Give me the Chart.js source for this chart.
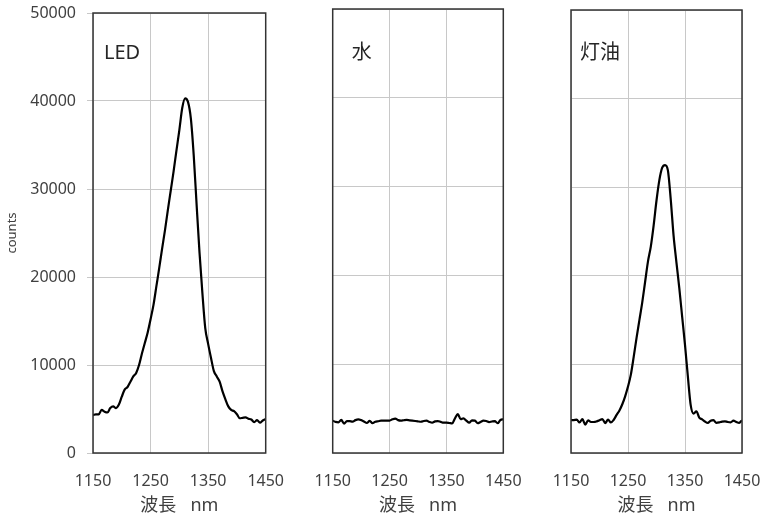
<!DOCTYPE html>
<html><head><meta charset="utf-8">
<script src="https://cdn.jsdelivr.net/npm/chart.js@4.4.0/dist/chart.umd.min.js"></script>
<style>
html,body{margin:0;padding:0;background:#fff;}
#wrap{position:relative;width:766px;height:520px;overflow:hidden;}
canvas{position:absolute;left:0;top:0;}
</style></head><body>
<div id="wrap">
<canvas id="c1" width="766" height="520"></canvas>
<canvas id="c2" width="766" height="520"></canvas>
<canvas id="c3" width="766" height="520"></canvas>
</div>
<script>
// ---- data ----
const wavelengths = [1150,1155,1160,1165,1170,1175,1180,1185,1190,1195,
  1200,1205,1210,1215,1220,1225,1230,1235,1240,1245,
  1250,1255,1260,1265,1270,1275,1280,1285,1290,1295,
  1300,1305,1310,1315,1320,1325,1330,1335,1340,1345,
  1350,1355,1360,1365,1370,1375,1380,1385,1390,1395,
  1400,1405,1410,1415,1420,1425,1430,1435,1440,1445,1450];
const ledCounts = [4300,4400,4400,4900,4700,4600,5100,5300,5100,5500,
  6400,7200,7500,8100,8700,9100,10000,11300,12500,13700,
  15200,16800,18900,21000,23200,25300,27600,29800,32000,34400,
  36700,39200,40300,39900,38000,33800,28200,22800,18200,14200,
  12400,10800,9300,8700,8100,7000,6100,5300,4900,4750,
  4400,3950,4000,4050,3900,3800,3500,3750,3450,3700,3850];
const waterCounts = [3640,3500,3450,3720,3300,3600,3580,3530,3700,3780,
  3700,3550,3380,3620,3350,3520,3580,3640,3640,3640,
  3650,3800,3880,3700,3650,3690,3720,3680,3640,3600,
  3560,3520,3600,3640,3500,3420,3560,3600,3500,3420,
  3420,3380,3330,3900,4380,3800,3900,3640,3420,3680,
  3650,3350,3500,3640,3600,3480,3550,3600,3350,3720,3790];
const keroseneCounts = [3700,3720,3760,3450,3820,3200,3680,3500,3500,3570,
  3700,3830,3380,3760,3450,3750,4300,4800,5500,6400,
  7500,8850,10850,13000,15000,17000,19300,21600,23300,25700,
  28500,30800,32200,32500,31900,28600,24500,21500,18600,15400,
  12200,8650,5400,4450,4700,4000,3800,3550,3400,3650,
  3700,3400,3450,3550,3580,3500,3460,3650,3500,3400,3700];
const panelLabels = ['LED', '水', '灯油'];
const xTicks = [1150, 1250, 1350, 1450];
const yTicks = [0, 10000, 20000, 30000, 40000, 50000];
const xTitle = '波長   nm';
const yTitle = 'counts';

// ---- layout / style ----
const FONT = '"Noto Sans", "Noto Sans CJK JP", sans-serif';
const boxes = [
  {left: 93, right: 265.7, top: 13},
  {left: 332.7, right: 503.3, top: 9},
  {left: 571, right: 742, top: 10}
];

const framePlugin = {
  id: 'frame',
  afterDatasetsDraw(chart) {
    const {ctx, chartArea: a} = chart;
    ctx.save();
    ctx.strokeStyle = '#333';
    ctx.lineWidth = 1.5;
    ctx.strokeRect(a.left, a.top, a.right - a.left, a.bottom - a.top);
    ctx.restore();
  }
};
const labelPlugin = {
  id: 'panelLabel',
  afterDraw(chart, args, opts) {
    const {ctx, chartArea: a} = chart;
    ctx.save();
    ctx.font = '20px ' + FONT;
    ctx.fillStyle = '#262626';
    ctx.textAlign = 'center';
    ctx.textBaseline = 'middle';
    ctx.fillText(opts.text, a.left + 29, 53);
    ctx.restore();
  }
};

function makeChart(id, values, label, box, showY) {
  const yW = showY ? 93 : 0;
  return new Chart(document.getElementById(id), {
    type: 'line',
    data: {
      datasets: [{
        data: wavelengths.map((w, i) => ({x: w, y: values[i]})),
        borderColor: '#000',
        borderWidth: 2.2,
        pointRadius: 0,
        cubicInterpolationMode: 'monotone',
        fill: false
      }]
    },
    options: {
      responsive: false,
      animation: false,
      devicePixelRatio: 1,
      events: [],
      layout: {padding: {left: box.left - yW, right: 766 - box.right, top: box.top, bottom: 0}},
      plugins: {
        legend: {display: false},
        tooltip: {enabled: false},
        panelLabel: {text: label}
      },
      scales: {
        x: {
          type: 'linear', min: 1150, max: 1450,
          afterBuildTicks: s => { s.ticks = xTicks.map(v => ({value: v})); },
          afterFit: s => { s.height = 67; s.paddingLeft = 0; s.paddingRight = 0; },
          grid: {color: '#c8c8c8', drawTicks: false, lineWidth: 1},
          border: {display: false},
          ticks: {padding: 19, color: '#404040', font: {family: FONT, size: 16}, maxRotation: 0, autoSkip: false,
                  callback: v => String(v)},
          title: {display: true, text: xTitle, color: '#404040', font: {family: FONT, size: 18}, padding: {top: 0, bottom: 3}}
        },
        y: {
          min: 0, max: 50000,
          afterBuildTicks: s => { s.ticks = yTicks.map(v => ({value: v})); },
          afterFit: s => { s.width = yW; s.paddingTop = 0; s.paddingBottom = 0; },
          grid: {color: '#c8c8c8', drawTicks: showY, tickLength: 6, tickColor: '#c8c8c8', lineWidth: 1},
          border: {display: false},
          ticks: {display: showY, padding: 11, color: '#404040', font: {family: FONT, size: 16},
                  callback: v => String(v)},
          title: {display: showY, text: yTitle, color: '#404040', font: {family: FONT, size: 13}, padding: {top: 4, bottom: 0}}
        }
      }
    },
    plugins: [framePlugin, labelPlugin]
  });
}

makeChart('c1', ledCounts, panelLabels[0], boxes[0], true);
makeChart('c2', waterCounts, panelLabels[1], boxes[1], false);
makeChart('c3', keroseneCounts, panelLabels[2], boxes[2], false);
</script>
</body></html>
